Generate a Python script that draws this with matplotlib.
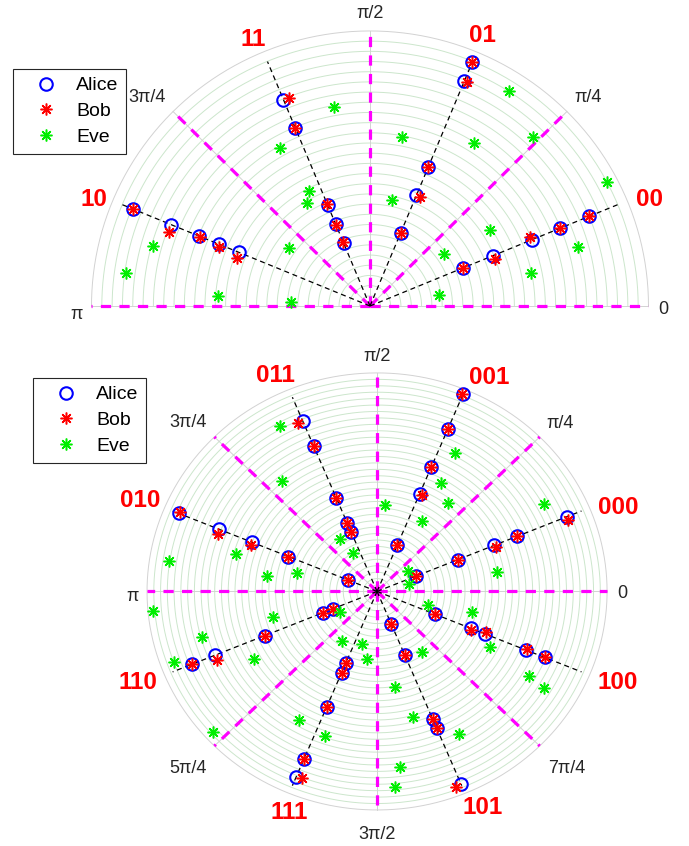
import numpy as np
import matplotlib.pyplot as plt
from matplotlib.lines import Line2D

plt.rcParams['font.family'] = ['Liberation Sans', 'DejaVu Sans']

# =========================
# Datos: semicirculo (2 bits)
# =========================
ang_sup = [22.5, 67.5, 112.5, 157.5]
etq_sup = ['00', '01', '11', '10']
alice_sup = [
    [0.852, 0.740, 0.628, 0.477, 0.362],
    [0.961, 0.885, 0.548, 0.436, 0.287],
    [0.812, 0.699, 0.398, 0.321, 0.246],
    [0.923, 0.773, 0.663, 0.587, 0.511],
]
bob_sup_ang = [22.5, 22.5, 23.6, 20.7, 22.5,
               67.5, 66.8, 67.5, 65.7, 67.5,
               110.9, 112.5, 112.5, 112.5, 112.5,
               157.5, 159.7, 157.5, 158.4, 160.0]
bob_sup_r = [0.852, 0.740, 0.626, 0.479, 0.362,
             0.961, 0.887, 0.548, 0.435, 0.287,
             0.811, 0.700, 0.400, 0.320, 0.250,
             0.923, 0.771, 0.660, 0.583, 0.509]
eve_sup_ang = [172.2, 164.4, 176.2, 176.8, 144.0, 119.4, 100.0, 117.5, 121.0,
               57.4, 79.3, 57.8, 46.4, 27.8, 78.6, 32.7, 35.4, 16.0, 11.6, 9.1]
eve_sup_r = [0.886, 0.810, 0.548, 0.285, 0.360, 0.661, 0.736, 0.471, 0.436,
             0.926, 0.624, 0.699, 0.851, 0.963, 0.395, 0.514, 0.324, 0.777, 0.589, 0.251]
ticks_sup = ['0', 'π/4', 'π/2', '3π/4', 'π']

# =========================
# Datos: circulo completo (3 bits)
# =========================
ang_inf = [22.5, 67.5, 112.5, 157.5, 202.5, 247.5, 292.5, 337.5]
etq_inf = ['000', '001', '011', '010', '110', '111', '101', '100']
alice_inf = [
    [0.893, 0.657, 0.551, 0.379, 0.185],
    [0.977, 0.804, 0.615, 0.484, 0.228],
    [0.846, 0.718, 0.462, 0.337, 0.292],
    [0.933, 0.742, 0.589, 0.417, 0.139],
    [0.869, 0.763, 0.528, 0.253, 0.205],
    [0.917, 0.830, 0.571, 0.402, 0.355],
    [0.956, 0.678, 0.634, 0.317, 0.163],
    [0.788, 0.702, 0.509, 0.442, 0.271],
]
bob_inf_ang = [21.5, 22.5, 21.4, 22.5, 22.5,
               67.8, 67.5, 67.5, 66.0, 67.5,
               114.1, 112.5, 112.5, 112.5, 112.5,
               156.9, 159.2, 158.8, 157.5, 157.5,
               202.5, 204.2, 202.5, 202.5, 202.5,
               249.0, 247.5, 247.5, 247.5, 247.5,
               291.0, 292.5, 292.5, 292.5, 292.5,
               337.5, 338.0, 338.5, 336.4, 337.5]
bob_inf_r = [0.894, 0.657, 0.554, 0.379, 0.185,
             0.976, 0.804, 0.615, 0.484, 0.228,
             0.843, 0.718, 0.462, 0.337, 0.292,
             0.931, 0.742, 0.589, 0.417, 0.139,
             0.869, 0.764, 0.528, 0.253, 0.205,
             0.915, 0.830, 0.571, 0.402, 0.355,
             0.957, 0.678, 0.634, 0.317, 0.163,
             0.788, 0.702, 0.509, 0.446, 0.271]
eve_inf_ang = [61.8, 60.7, 52.7, 59.1, 85.0, 28.9, 9.6, 35.0, 13.9,
               119.1, 129.2, 171.1, 164.3, 171.6, 166.5, 123.8, 120.8,
               185.2, 195.2, 200.0, 194.3, 210.1, 222.0, 240.1, 251.1, 235.8, 209.8, 254.6, 262.3,
               344.5, 347.4, 332.7, 329.8, 328.8, 305.2, 280.1, 285.1, 298.6, 277.1, 275.0]
eve_inf_r = [0.718, 0.568, 0.507, 0.378, 0.397, 0.829, 0.528, 0.166, 0.143,
             0.867, 0.655, 0.914, 0.637, 0.485, 0.356, 0.289, 0.207,
             0.979, 0.787, 0.939, 0.465, 0.616, 0.958, 0.678, 0.698, 0.274, 0.185, 0.251, 0.313,
             0.231, 0.422, 0.552, 0.766, 0.850, 0.337, 0.445, 0.594, 0.745, 0.808, 0.897]
ticks_inf = ['0', 'π/4', 'π/2', '3π/4', 'π', '5π/4', '3π/2', '7π/4']

# posiciones de los textos (coordenadas normalizadas de cada panel)
pos_ticks_sup = [(1.052, -0.007), (0.783, 0.767), (0.0, 1.069), (-0.801, 0.767), (-1.052, -0.022)]
pos_etq_sup = [(1.005, 0.396), (0.402, 0.993), (-0.420, 0.978), (-0.991, 0.396)]
pos_ticks_inf = [(1.065, -0.002), (0.796, 0.776), (0.0, 1.082), (-0.822, 0.780),
                 (-1.061, -0.016), (-0.822, -0.803), (0.0, -1.101), (0.826, -0.803)]
pos_etq_inf = [(1.048, 0.396), (0.487, 0.991), (-0.443, 1.0), (-1.030, 0.428),
               (-1.039, -0.405), (-0.383, -1.0), (0.457, -0.977), (1.048, -0.405)]

AST = (8, 2, 0)  # asterisco tipo MATLAB


def pol(ang, r):
    t = np.deg2rad(np.asarray(ang, dtype=float))
    r = np.asarray(r, dtype=float)
    return r * np.cos(t), r * np.sin(t)


def dibujar(ax, amplitud, n_anillos, angs, etqs, alice, bob_a, bob_r, eve_a, eve_r,
            ticks, pos_ticks, pos_etq):
    t = np.linspace(0, np.deg2rad(amplitud), 400)
    # anillos
    for k in range(1, n_anillos + 1):
        rr = k / n_anillos
        col = '#d2d2d2' if k == n_anillos else '#cce6cc'
        ax.plot(rr * np.cos(t), rr * np.sin(t), color=col, lw=0.7, zorder=1, clip_on=False)
    # lineas angulares cada pi/4
    n_div = int(amplitud / 45)
    ang_div = [45 * i for i in range(n_div + (1 if amplitud < 360 else 0))]
    for a in ang_div:
        x, y = pol([a, a], [0, 1])
        ax.plot(x, y, color='#d2d2d2', lw=0.7, zorder=1, clip_on=False)
        ax.plot(x, y, color='#ff00ff', lw=2.3, ls=(0, (3.2, 2.6)), zorder=2, clip_on=False)
    # etiquetas de angulo
    for (x, y), s in zip(pos_ticks, ticks):
        ax.text(x, y, s, fontsize=13, color='#262626', ha='center', va='center_baseline')
    # lineas de simbolos y etiquetas rojas
    for a, s, rs, (xe, ye) in zip(angs, etqs, alice, pos_etq):
        x, y = pol([a, a], [0, 0.962])
        ax.plot(x, y, color='black', lw=0.9, ls=(0, (4, 3)), zorder=3, clip_on=False)
        ax.text(xe, ye, s, fontsize=17.5, fontweight='bold', color='#ff0000',
                ha='center', va='center_baseline')
        x, y = pol([a] * len(rs), rs)
        ax.plot(x, y, ls='none', marker='o', ms=9, mfc='none', mec='#0000ff', mew=1.5,
                zorder=4, clip_on=False)
    x, y = pol(bob_a, bob_r)
    ax.plot(x, y, ls='none', marker=AST, ms=8.5, mec='#ff0000', mew=1.1, zorder=5, clip_on=False)
    x, y = pol(eve_a, eve_r)
    ax.plot(x, y, ls='none', marker=AST, ms=8.5, mec='#00ee00', mew=1.1, zorder=5, clip_on=False)
    ax.set_xlim(-1, 1)
    ax.set_ylim(0 if amplitud < 360 else -1, 1)
    ax.axis('off')


fig = plt.figure(figsize=(6.89, 8.46), dpi=100)

ax1 = fig.add_axes([0.1328, 0.6383, 0.8084, 0.3251])
dibujar(ax1, 180, 27, ang_sup, etq_sup, alice_sup, bob_sup_ang, bob_sup_r,
        eve_sup_ang, eve_sup_r, ticks_sup, pos_ticks_sup, pos_etq_sup)

ax2 = fig.add_axes([0.2134, 0.0426, 0.6677, 0.5166])
dibujar(ax2, 360, 34, ang_inf, etq_inf, alice_inf, bob_inf_ang, bob_inf_r,
        eve_inf_ang, eve_inf_r, ticks_inf, pos_ticks_inf, pos_etq_inf)

manijas = [
    Line2D([], [], ls='none', marker='o', ms=9, mfc='none', mec='#0000ff', mew=1.5),
    Line2D([], [], ls='none', marker=AST, ms=8.5, mec='#ff0000', mew=1.1),
    Line2D([], [], ls='none', marker=AST, ms=8.5, mec='#00ee00', mew=1.1),
]
nombres = ['Alice', 'Bob', 'Eve']
for pos in [(13 / 689, 1 - 69 / 846), (33 / 689, 1 - 378 / 846)]:
    fig.legend(manijas, nombres, loc='upper left', bbox_to_anchor=pos,
               bbox_transform=fig.transFigure, borderaxespad=0, fontsize=14,
               fancybox=False, framealpha=1, edgecolor='#262626',
               handlelength=2.6, handletextpad=0.25, borderpad=0.4,
               labelspacing=0.42).get_frame().set_linewidth(0.8)

plt.savefig('out.png', dpi=100)
plt.close()
